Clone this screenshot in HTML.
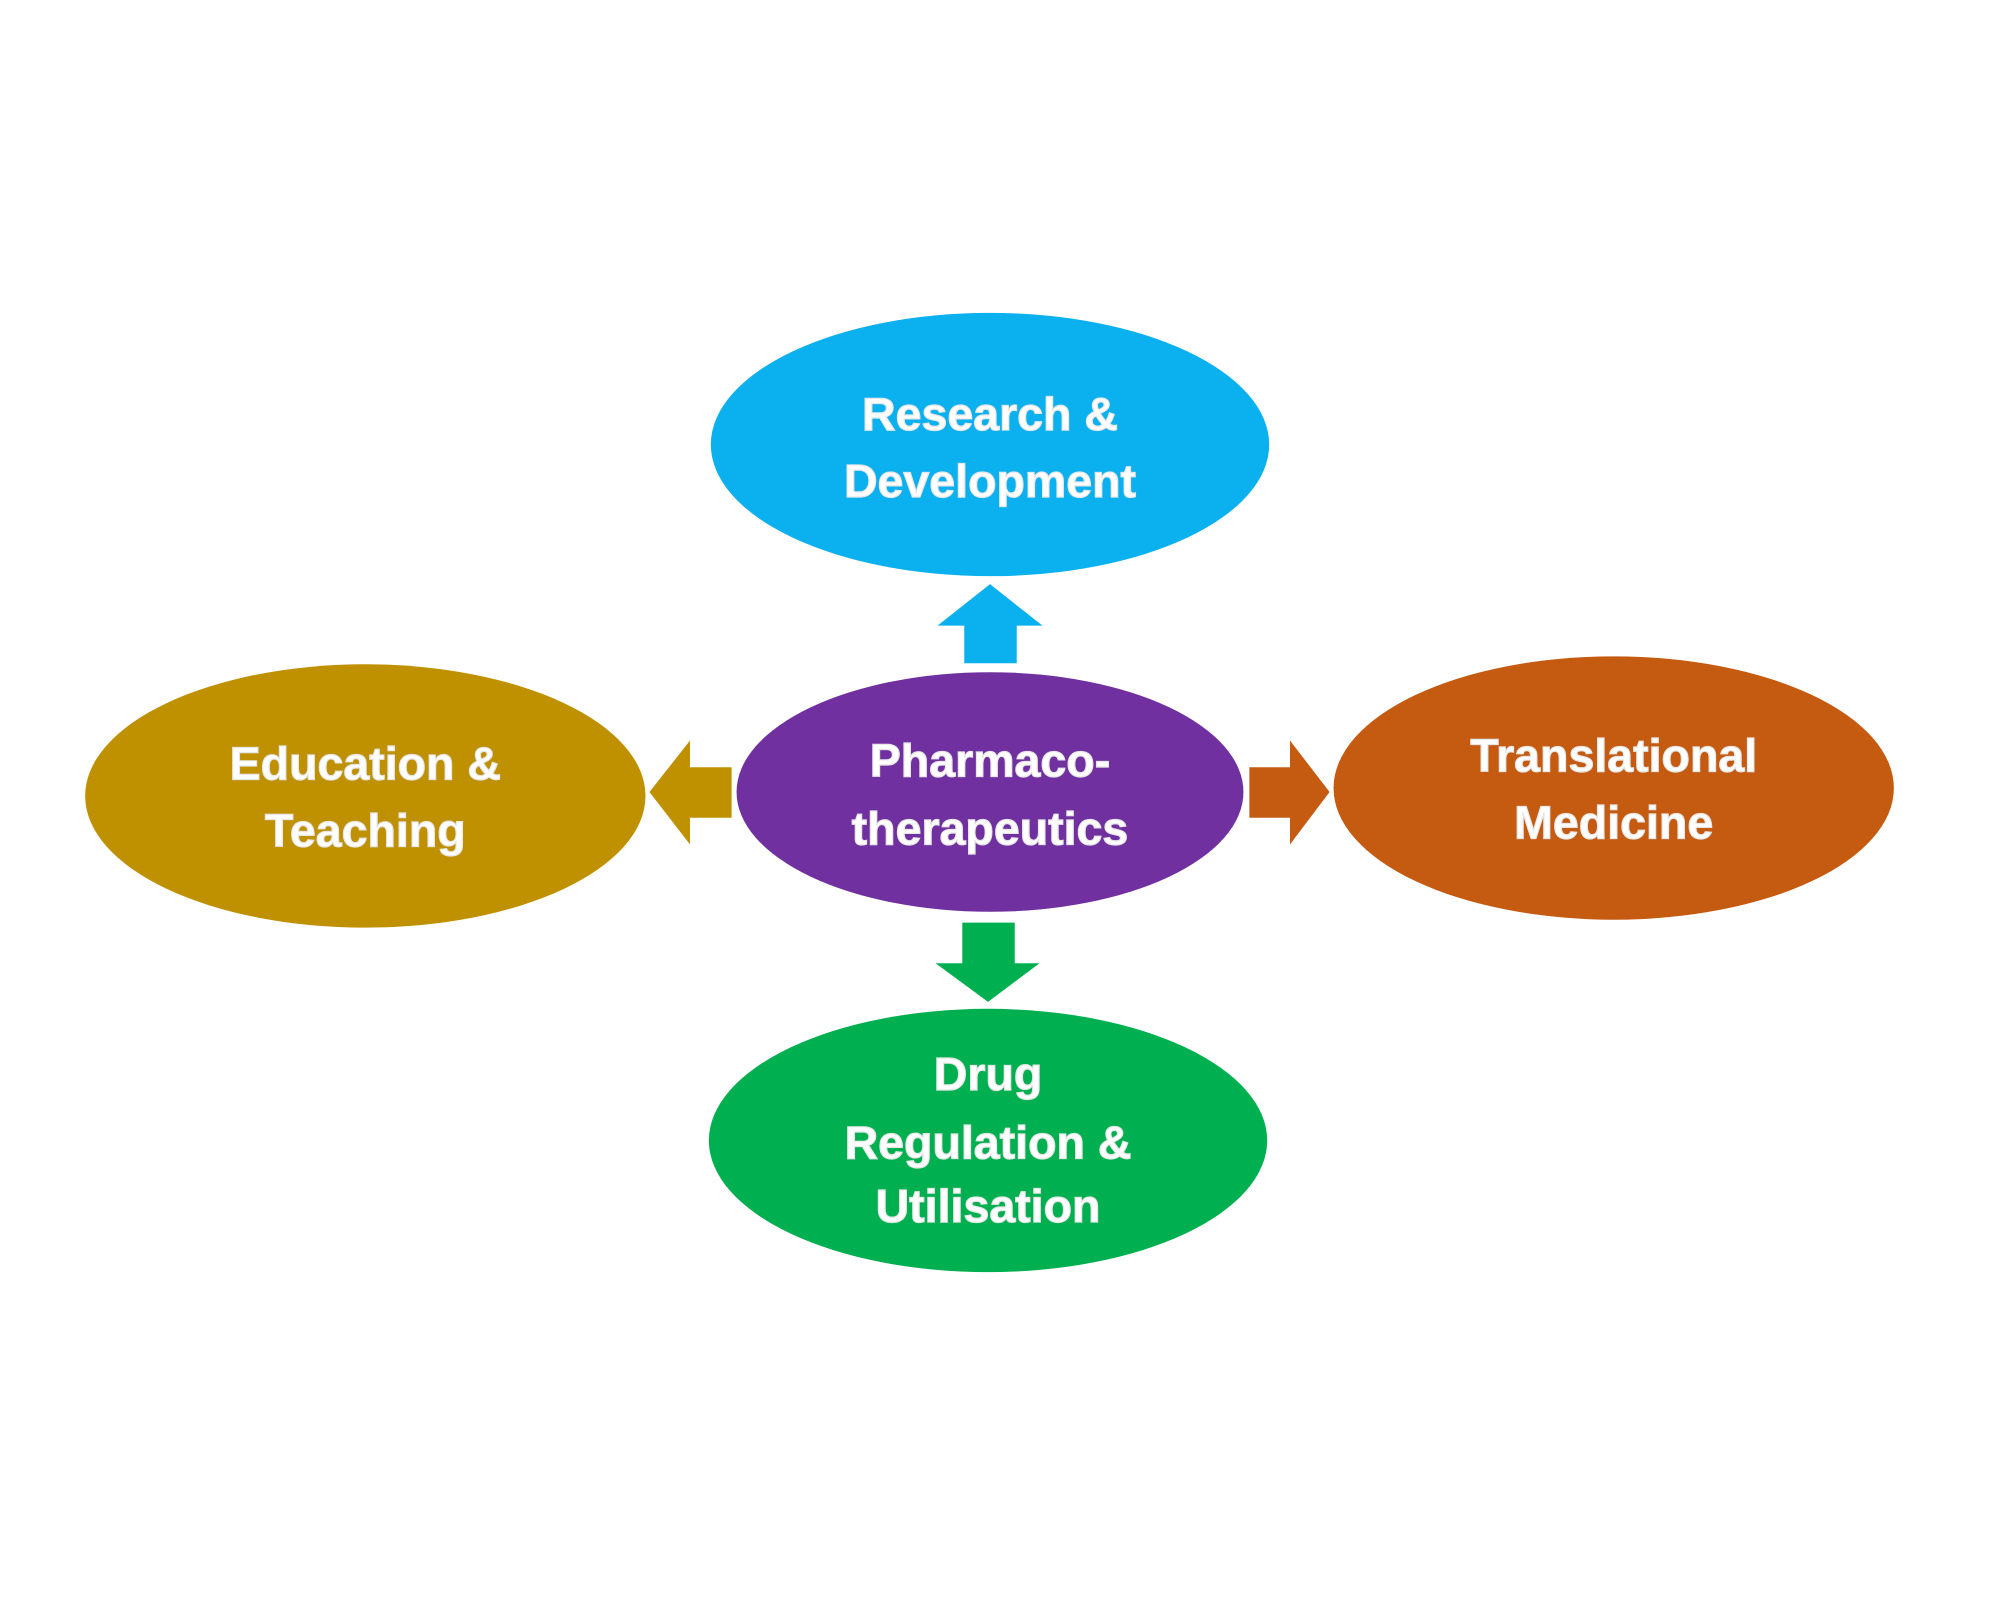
<!DOCTYPE html>
<html><head><style>
html,body{margin:0;padding:0;background:#fff;}
svg{display:block;}
text{font-family:"Liberation Sans",sans-serif;font-weight:bold;font-size:47px;fill:#fff;text-anchor:middle;dominant-baseline:central;stroke:#e6e6e6;stroke-width:1.2px;}
</style></head><body>
<svg width="2000" height="1600" viewBox="0 0 2000 1600">
<g transform="scale(0.99)">
<ellipse cx="1000" cy="449" rx="282" ry="133" fill="#0BB0EF"/>
<ellipse cx="369" cy="804" rx="283" ry="133" fill="#BF9000"/>
<ellipse cx="1630" cy="796" rx="283" ry="133" fill="#C55A11"/>
<ellipse cx="998" cy="1152" rx="282" ry="133" fill="#00B050"/>
<ellipse cx="1000" cy="800" rx="256" ry="121" fill="#7030A0"/>
<polygon points="1000,590 1053,632 1027,632 1027,670 974,670 974,632 947,632" fill="#0BB0EF"/>
<polygon points="972,932 1025,932 1025,973 1050,973 998,1012 945,973 972,973" fill="#00B050"/>
<polygon points="656,800 697,748 697,775 739,775 739,826 697,826 697,853" fill="#BF9000"/>
<polygon points="1262,775 1303,775 1303,748 1343,800 1303,853 1303,826 1262,826" fill="#C55A11"/>
<text x="1000" y="418">Research &amp;</text>
<text x="1000" y="486">Development</text>
<text x="1000" y="768">Pharmaco-</text>
<text x="1000" y="837">therapeutics</text>
<text x="369" y="771">Education &amp;</text>
<text x="369" y="839">Teaching</text>
<text x="1630" y="763">Translational</text>
<text x="1630" y="831">Medicine</text>
<text x="998" y="1085">Drug</text>
<text x="998" y="1154">Regulation &amp;</text>
<text x="998" y="1218">Utilisation</text>
</g>
</svg>
</body></html>
